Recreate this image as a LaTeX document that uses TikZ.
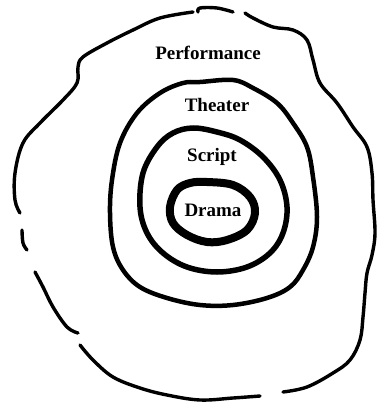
\documentclass[tikz,border=0pt]{standalone}
\usepackage{fontspec}
\setmainfont{Liberation Serif}
\tikzset{
  ring/.style={line cap=round, line join=round, black},
  lbl/.style={font=\fontsize{19}{21}\selectfont\bfseries, inner sep=0pt}
}
\begin{document}
\begin{tikzpicture}[x=1pt,y=-1pt]
\useasboundingbox (0,0) rectangle (376,403);
% outer ring (broken)
\draw[ring, line width=3.4pt] plot[smooth, tension=0.6] coordinates {(193,12) (160,18) (133,30) (107,43) (83,57) (78,67) (77,83) (63,100) (40,123) (23,143) (15,173) (15,200) (20,213)};
\draw[ring, line width=3.4pt] plot[smooth, tension=0.6] coordinates {(22,230) (23,243) (27,250)};
\draw[ring, line width=3.4pt] plot[smooth, tension=0.6] coordinates {(35,272) (43,287) (53,307) (67,327) (78,333)};
\draw[ring, line width=3.4pt] plot[smooth, tension=0.6] coordinates {(80,345) (93,360) (113,377) (140,388) (167,395) (200,400) (233,398) (260,396)};
\draw[ring, line width=3.4pt] plot[smooth, tension=0.6] coordinates {(283,392) (307,387) (333,373) (350,360) (360,340) (363,317) (365,293) (367,273) (372,255) (375,233) (373,200) (372,173) (367,147) (353,127) (337,103) (320,83) (313,60) (307,40) (293,30) (273,27) (253,18) (245,13)};
\draw[ring, line width=3.4pt] plot[smooth, tension=0.6] coordinates {(198,12) (200,8) (217,8) (233,12)};
% theater ring
\draw[ring, line width=4.5pt] plot[smooth cycle, tension=0.6] coordinates {(200,82) (233,80) (253,88) (277,103) (293,123) (307,147) (313,177) (317,217) (313,247) (303,270) (290,287) (267,298) (233,305) (200,305) (167,298) (140,287) (123,270) (113,247) (110,213) (112,180) (120,143) (137,113) (160,93) (183,83)};
% script ring
\draw[ring, line width=5.5pt] plot[smooth cycle, tension=0.6] coordinates {(193,128) (217,132) (240,140) (263,157) (280,180) (287,207) (283,233) (270,253) (247,267) (217,272) (187,267) (163,253) (147,233) (140,207) (143,173) (157,147) (173,133)};
% drama ring
\draw[ring, line width=8pt] plot[smooth cycle, tension=0.6] coordinates {(207,182) (233,185) (250,197) (255,213) (247,230) (227,240) (207,242) (187,235) (173,223) (170,207) (177,190) (190,183)};
% labels
\node[lbl] (perf) at (208,53) {Performance};
\node[lbl] (theat) at (217,105) {Theater};
\node[lbl] (scr) at (212,157) {Script};
\node[lbl, fill=white, inner xsep=4pt, inner ysep=4pt] (dram) at (213,210) {Drama};
\end{tikzpicture}
\end{document}
